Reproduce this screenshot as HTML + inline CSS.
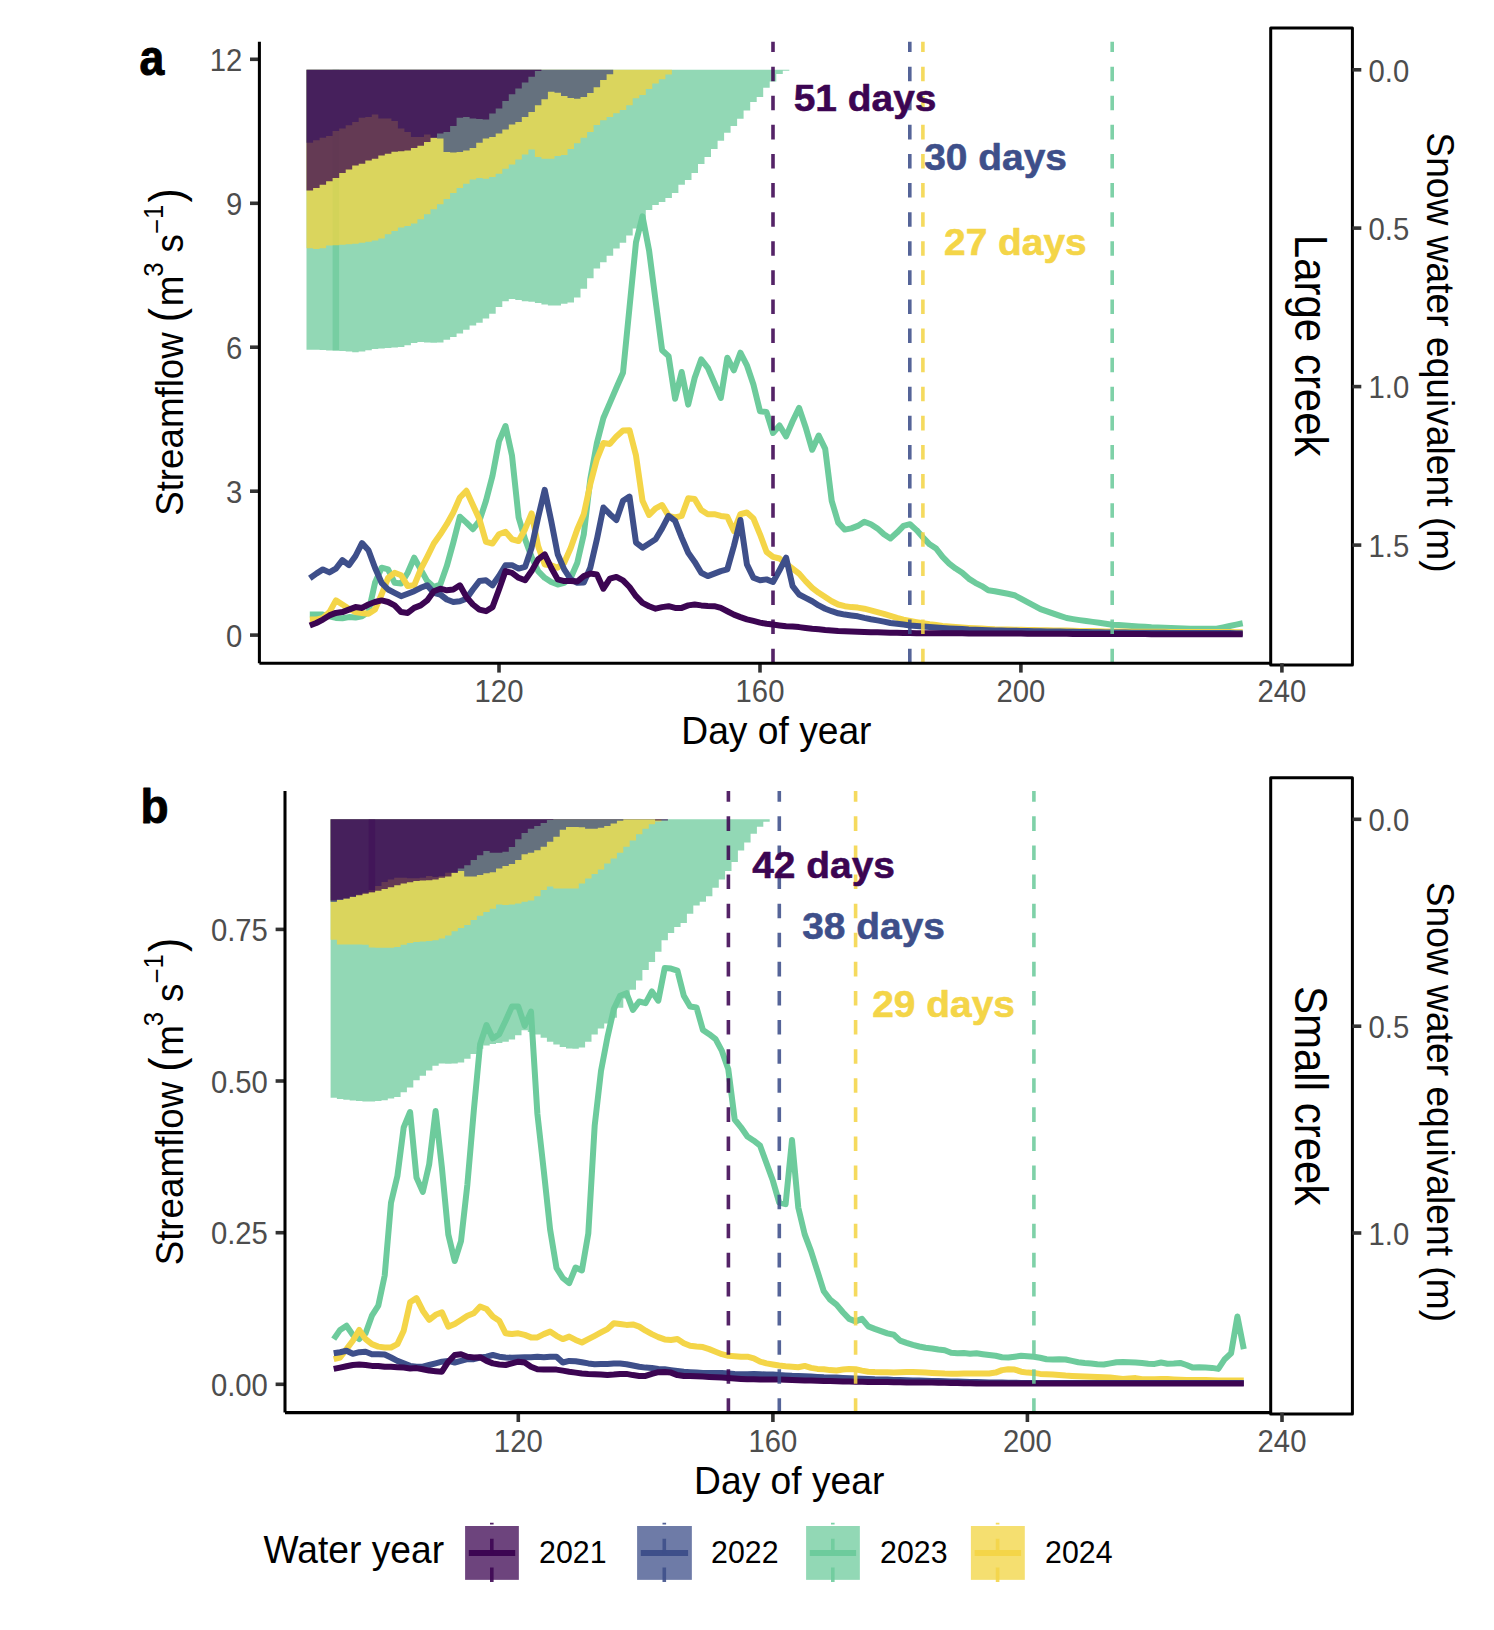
<!DOCTYPE html>
<html lang="en"><head><meta charset="utf-8"><title>Streamflow and snow water equivalent</title>
<style>html,body{margin:0;padding:0;background:#fff}svg{display:block}</style></head>
<body>
<svg width="1494" height="1630" viewBox="0 0 1494 1630" font-family="'Liberation Sans', sans-serif" role="img" aria-label="Streamflow and snow water equivalent by day of year for a large and a small creek, water years 2021 to 2024">
<rect width="1494" height="1630" fill="#fff"/>
<g>
<rect x="1270.7" y="27.9" width="81.7" height="637" fill="#fff" stroke="#000" stroke-width="3" stroke-linejoin="round"/>
<text transform="translate(1295,345.7) rotate(90) scale(1,1.09)" font-size="42.0" fill="#000" text-anchor="middle">Large creek</text>
<g fill-opacity="0.75">
<path d="M306.5,69.8 L306.5,349.8 L313.1,349.8 L313.1,349.8 L319.6,349.8 L319.6,350.1 L326.1,350.1 L326.1,350.6 L332.6,350.6 L332.6,350.6 L339.2,350.6 L339.2,350.9 L345.7,350.9 L345.7,351.4 L352.2,351.4 L352.2,352.3 L358.7,352.3 L358.7,351.4 L365.3,351.4 L365.3,350.3 L371.8,350.3 L371.8,348.9 L378.3,348.9 L378.3,348.4 L384.8,348.4 L384.8,348.1 L391.4,348.1 L391.4,347.6 L397.9,347.6 L397.9,346.9 L404.4,346.9 L404.4,345.2 L410.9,345.2 L410.9,343.1 L417.4,343.1 L417.4,341.9 L424,341.9 L424,342.6 L430.5,342.6 L430.5,342.7 L437,342.7 L437,342.6 L443.5,342.6 L443.5,339.7 L450.1,339.7 L450.1,336.9 L456.6,336.9 L456.6,333.5 L463.1,333.5 L463.1,329.7 L469.6,329.7 L469.6,325.5 L476.2,325.5 L476.2,322.7 L482.7,322.7 L482.7,318.5 L489.2,318.5 L489.2,313.8 L495.7,313.8 L495.7,307.1 L502.3,307.1 L502.3,301.2 L508.8,301.2 L508.8,299.1 L515.3,299.1 L515.3,300.1 L521.8,300.1 L521.8,301.2 L528.4,301.2 L528.4,301.7 L534.9,301.7 L534.9,302.9 L541.4,302.9 L541.4,304.6 L547.9,304.6 L547.9,305.4 L554.5,305.4 L554.5,305.4 L561,305.4 L561,303.7 L567.5,303.7 L567.5,302.4 L574,302.4 L574,297.4 L580.5,297.4 L580.5,288.7 L587.1,288.7 L587.1,278.3 L593.6,278.3 L593.6,268.6 L600.1,268.6 L600.1,262.2 L606.6,262.2 L606.6,255.7 L613.2,255.7 L613.2,248.5 L619.7,248.5 L619.7,242.7 L626.2,242.7 L626.2,235.6 L632.7,235.6 L632.7,228.4 L639.3,228.4 L639.3,219.6 L645.8,219.6 L645.8,209.9 L652.3,209.9 L652.3,205.1 L658.8,205.1 L658.8,201.9 L665.4,201.9 L665.4,197.9 L671.9,197.9 L671.9,192.9 L678.4,192.9 L678.4,184.8 L684.9,184.8 L684.9,180 L691.5,180 L691.5,173 L698,173 L698,163.9 L704.5,163.9 L704.5,156.9 L711,156.9 L711,148.9 L717.6,148.9 L717.6,140.8 L724.1,140.8 L724.1,132.8 L730.6,132.8 L730.6,125.9 L737.1,125.9 L737.1,118.7 L743.6,118.7 L743.6,110.4 L750.2,110.4 L750.2,102 L756.7,102 L756.7,97 L763.2,97 L763.2,87.8 L769.7,87.8 L769.7,81.4 L776.3,81.4 L776.3,73.9 L782.8,73.9 L782.8,70.7 L789.3,70.7 L789.3,69.8Z" fill="#6dcb9c"/>
<rect x="332.6" y="69.8" width="6.5" height="280.7" fill="#6dcb9c" fill-opacity="0.75"/>
<path d="M306.5,69.8 L306.5,248.2 L313.1,248.2 L313.1,248.9 L319.6,248.9 L319.6,248.2 L326.1,248.2 L326.1,245.5 L332.6,245.5 L332.6,245.2 L339.2,245.2 L339.2,244.8 L345.7,244.8 L345.7,244.3 L352.2,244.3 L352.2,243.8 L358.7,243.8 L358.7,242.7 L365.3,242.7 L365.3,241.8 L371.8,241.8 L371.8,240.5 L378.3,240.5 L378.3,238.5 L384.8,238.5 L384.8,234.3 L391.4,234.3 L391.4,231 L397.9,231 L397.9,227.6 L404.4,227.6 L404.4,225.9 L410.9,225.9 L410.9,223.4 L417.4,223.4 L417.4,219.2 L424,219.2 L424,214.2 L430.5,214.2 L430.5,209.2 L437,209.2 L437,204.2 L443.5,204.2 L443.5,198.9 L450.1,198.9 L450.1,193 L456.6,193 L456.6,188 L463.1,188 L463.1,183.8 L469.6,183.8 L469.6,179.6 L476.2,179.6 L476.2,178 L482.7,178 L482.7,178.8 L489.2,178.8 L489.2,177.1 L495.7,177.1 L495.7,173.8 L502.3,173.8 L502.3,168.8 L508.8,168.8 L508.8,164.6 L515.3,164.6 L515.3,159.6 L521.8,159.6 L521.8,154.5 L528.4,154.5 L528.4,149.5 L534.9,149.5 L534.9,157.1 L541.4,157.1 L541.4,158.7 L547.9,158.7 L547.9,158.7 L554.5,158.7 L554.5,156.1 L561,156.1 L561,154.9 L567.5,154.9 L567.5,149 L574,149 L574,143.2 L580.5,143.2 L580.5,137.8 L587.1,137.8 L587.1,132 L593.6,132 L593.6,124.9 L600.1,124.9 L600.1,120.2 L606.6,120.2 L606.6,116.9 L613.2,116.9 L613.2,113.2 L619.7,113.2 L619.7,110 L626.2,110 L626.2,105.2 L632.7,105.2 L632.7,98.2 L639.3,98.2 L639.3,95 L645.8,95 L645.8,89.1 L652.3,89.1 L652.3,83.4 L658.8,83.4 L658.8,79.2 L665.4,79.2 L665.4,74.4 L671.9,74.4 L671.9,69.8Z" fill="#f2d440"/>
<path d="M306.5,69.8 L306.5,142.8 L313.1,142.8 L313.1,140.3 L319.6,140.3 L319.6,137.8 L326.1,137.8 L326.1,136.1 L332.6,136.1 L332.6,131.1 L339.2,131.1 L339.2,128.6 L345.7,128.6 L345.7,125.3 L352.2,125.3 L352.2,121.9 L358.7,121.9 L358.7,117.7 L365.3,117.7 L365.3,116.9 L371.8,116.9 L371.8,114.4 L378.3,114.4 L378.3,118.6 L384.8,118.6 L384.8,118.6 L391.4,118.6 L391.4,121.1 L397.9,121.1 L397.9,128.6 L404.4,128.6 L404.4,132 L410.9,132 L410.9,137 L417.4,137 L417.4,137 L424,137 L424,134.5 L430.5,134.5 L430.5,137.8 L437,137.8 L437,138.6 L443.5,138.6 L443.5,152 L450.1,152 L450.1,152.5 L456.6,152.5 L456.6,152 L463.1,152 L463.1,150.4 L469.6,150.4 L469.6,147.9 L476.2,147.9 L476.2,142.8 L482.7,142.8 L482.7,138.6 L489.2,138.6 L489.2,137 L495.7,137 L495.7,133.6 L502.3,133.6 L502.3,129.4 L508.8,129.4 L508.8,124.4 L515.3,124.4 L515.3,121.9 L521.8,121.9 L521.8,116.9 L528.4,116.9 L528.4,111.9 L534.9,111.9 L534.9,105.2 L541.4,105.2 L541.4,99.3 L547.9,99.3 L547.9,91.8 L554.5,91.8 L554.5,92.8 L561,92.8 L561,96 L567.5,96 L567.5,98 L574,98 L574,98.8 L580.5,98.8 L580.5,97.1 L587.1,97.1 L587.1,93 L593.6,93 L593.6,87.3 L600.1,87.3 L600.1,80.1 L606.6,80.1 L606.6,74.2 L613.2,74.2 L613.2,69.8Z" fill="#3e4f8a"/>
<path d="M306.5,69.8 L306.5,190.5 L313.1,190.5 L313.1,188 L319.6,188 L319.6,184.7 L326.1,184.7 L326.1,181.3 L332.6,181.3 L332.6,178 L339.2,178 L339.2,173 L345.7,173 L345.7,169.6 L352.2,169.6 L352.2,165.4 L358.7,165.4 L358.7,163.7 L365.3,163.7 L365.3,160.4 L371.8,160.4 L371.8,158.7 L378.3,158.7 L378.3,155.4 L384.8,155.4 L384.8,153.7 L391.4,153.7 L391.4,151.7 L397.9,151.7 L397.9,151.2 L404.4,151.2 L404.4,150.4 L410.9,150.4 L410.9,147.9 L417.4,147.9 L417.4,145.7 L424,145.7 L424,142 L430.5,142 L430.5,137.8 L437,137.8 L437,133.6 L443.5,133.6 L443.5,132 L450.1,132 L450.1,126.1 L456.6,126.1 L456.6,117.7 L463.1,117.7 L463.1,116.9 L469.6,116.9 L469.6,118.6 L476.2,118.6 L476.2,118.9 L482.7,118.9 L482.7,119.4 L489.2,119.4 L489.2,113.5 L495.7,113.5 L495.7,108.5 L502.3,108.5 L502.3,101 L508.8,101 L508.8,94.3 L515.3,94.3 L515.3,88.4 L521.8,88.4 L521.8,82.6 L528.4,82.6 L528.4,76.7 L534.9,76.7 L534.9,70.9 L541.4,70.9 L541.4,69.8Z" fill="#3c0552"/>
</g>
<g fill="none" stroke-width="6.0" stroke-linejoin="round" stroke-linecap="butt">
<path d="M309.8,614.6 L316.3,614.6 L322.9,614.6 L329.4,616.3 L335.9,617.9 L342.4,618.3 L348.9,617.1 L355.5,617.6 L362,616.3 L368.5,612.1 L375,582.8 L381.6,567.7 L388.1,569.4 L394.6,582.8 L401.1,583.6 L407.7,572.8 L414.2,557.7 L420.7,569.4 L427.2,581.1 L433.8,587 L440.3,584.5 L446.8,566.1 L453.3,542.6 L459.9,516.7 L466.4,522.6 L472.9,529.2 L479.4,520.9 L486,500.8 L492.5,475.7 L499,441.4 L505.5,426 L512,455.6 L518.6,517.5 L525.1,539.3 L531.6,556.9 L538.1,571.1 L544.7,577.8 L551.2,582 L557.7,584.5 L564.2,582.8 L570.8,577.8 L577.3,562.7 L583.8,534.3 L590.3,479 L596.9,443.1 L603.4,418 L609.9,402.9 L616.4,387.8 L623,372.8 L629.5,307.5 L636,242.3 L642.5,216.3 L649.1,250.6 L655.6,300.8 L662.1,350.2 L668.6,356.1 L675.1,398.7 L681.7,372 L688.2,404.6 L694.7,377.8 L701.2,359.4 L707.8,367.8 L714.3,382.8 L720.8,397.9 L727.3,357.7 L733.9,370.3 L740.4,352.7 L746.9,365.3 L753.4,384.5 L760,411.3 L766.5,412.1 L773,433 L779.5,425.5 L786.1,436.4 L792.6,421.3 L799.1,407.9 L805.6,427.2 L812.2,449.8 L818.7,435.5 L825.2,448.9 L831.7,500.8 L838.2,522.6 L844.8,529.6 L851.3,528.4 L857.8,525.9 L864.3,521.7 L870.9,524.2 L877.4,528.4 L883.9,534.3 L890.4,538.5 L897,532.6 L903.5,525.9 L910,524.2 L916.5,530.1 L923.1,537.6 L929.6,544.3 L936.1,548.5 L942.6,556.9 L949.2,563.6 L955.7,568.6 L962.2,572.8 L968.7,578.6 L975.3,582.8 L981.8,586.1 L988.3,590.3 L994.8,591.2 L1001.3,592.5 L1007.9,593.8 L1014.4,595.2 L1020.9,598.7 L1027.4,602.2 L1034,605.6 L1040.5,609.1 L1047,611.3 L1053.5,613.6 L1060.1,615.8 L1066.6,618 L1073.1,619.1 L1079.6,620.1 L1086.2,621 L1092.7,621.9 L1099.2,622.8 L1105.7,623.8 L1112.3,624.7 L1118.8,625.1 L1125.3,625.6 L1131.8,626 L1138.4,626.4 L1144.9,626.8 L1151.4,627.3 L1157.9,627.6 L1164.4,627.8 L1171,628 L1177.5,628.2 L1184,628.5 L1190.5,628.7 L1197.1,628.7 L1203.6,628.7 L1210.1,628.7 L1216.6,628.7 L1223.2,627.4 L1229.7,626 L1236.2,624.6 L1242.7,623.3" stroke="#6dcb9c"/>
<path d="M309.8,619.6 L316.3,619.6 L322.9,617.9 L329.4,612.1 L335.9,600.4 L342.4,604.5 L348.9,608.7 L355.5,612.1 L362,612.9 L368.5,613.8 L375,609.6 L381.6,594.5 L388.1,577.8 L394.6,572.8 L401.1,575.3 L407.7,586.1 L414.2,585.3 L420.7,569.4 L427.2,556.9 L433.8,543.5 L440.3,534.3 L446.8,524.2 L453.3,512.5 L459.9,497.5 L466.4,490.8 L472.9,505 L479.4,519.2 L486,541.8 L492.5,543.5 L499,534.3 L505.5,531.8 L512,539.3 L518.6,541 L525.1,529.2 L531.6,513.4 L538.1,546 L544.7,564.4 L551.2,565.2 L557.7,567.7 L564.2,562.7 L570.8,547.7 L577.3,529.2 L583.8,514.2 L590.3,484.1 L596.9,459 L603.4,443.1 L609.9,443.9 L616.4,436.4 L623,430.5 L629.5,430.2 L636,455.6 L642.5,500.8 L649.1,515 L655.6,508.3 L662.1,505 L668.6,515.9 L675.1,517.5 L681.7,515.9 L688.2,498.3 L694.7,499.1 L701.2,510 L707.8,514.2 L714.3,514.2 L720.8,515.9 L727.3,516.7 L733.9,530.9 L740.4,514.2 L746.9,512.5 L753.4,518.4 L760,534.3 L766.5,551.8 L773,556.9 L779.5,558.5 L786.1,563.6 L792.6,568.6 L799.1,573.6 L805.6,581.1 L812.2,587.8 L818.7,592.8 L825.2,597 L831.7,601.2 L838.2,604.5 L844.8,606.2 L851.3,607.1 L857.8,607.6 L864.3,608.7 L870.9,610.4 L877.4,612.1 L883.9,613.8 L890.4,615.9 L897,617.9 L903.5,619.6 L910,620.9 L916.5,622.1 L923.1,623.3 L929.6,624.3 L936.1,625.1 L942.6,626 L949.2,626.6 L955.7,627.1 L962.2,627.6 L968.7,628 L975.3,628.3 L981.8,628.6 L988.3,629 L994.8,629.3 L1001.3,629.4 L1007.9,629.6 L1014.4,629.7 L1020.9,629.8 L1027.4,629.9 L1034,630 L1040.5,630.2 L1047,630.3 L1053.5,630.4 L1060.1,630.5 L1066.6,630.6 L1073.1,630.8 L1079.6,630.9 L1086.2,631 L1092.7,631.1 L1099.2,631.2 L1105.7,631.4 L1112.3,631.5 L1118.8,631.6 L1125.3,631.6 L1131.8,631.7 L1138.4,631.7 L1144.9,631.7 L1151.4,631.8 L1157.9,631.8 L1164.4,631.8 L1171,631.9 L1177.5,631.9 L1184,631.9 L1190.5,631.9 L1197.1,632 L1203.6,632 L1210.1,632 L1216.6,632.1 L1223.2,632.1 L1229.7,632.1 L1236.2,632.2 L1242.7,632.2" stroke="#f4d548"/>
<path d="M309.8,578.3 L316.3,573.6 L322.9,569.4 L329.4,572.4 L335.9,568.6 L342.4,560.2 L348.9,565.2 L355.5,556 L362,543.1 L368.5,550.2 L375,567.7 L381.6,582.8 L388.1,589.5 L394.6,592.8 L401.1,596.2 L407.7,593.7 L414.2,591.2 L420.7,587.8 L427.2,585.3 L433.8,592.8 L440.3,594.5 L446.8,599.5 L453.3,602 L459.9,601.2 L466.4,598.7 L472.9,589.5 L479.4,581.1 L486,580.3 L492.5,585.3 L499,576.1 L505.5,565.2 L512,565.2 L518.6,568.6 L525.1,566.9 L531.6,547.7 L538.1,517.5 L544.7,489.9 L551.2,520.9 L557.7,554.3 L564.2,569.4 L570.8,579.4 L577.3,582.8 L583.8,582.5 L590.3,567.7 L596.9,539.3 L603.4,507.5 L609.9,514.2 L616.4,520 L623,500.8 L629.5,496.6 L636,542.6 L642.5,547.7 L649.1,543.5 L655.6,539.3 L662.1,528.4 L668.6,515.9 L675.1,520.9 L681.7,537.6 L688.2,552.7 L694.7,561.9 L701.2,572.8 L707.8,576.1 L714.3,573.6 L720.8,571.1 L727.3,569.4 L733.9,546 L740.4,520 L746.9,564.4 L753.4,577.8 L760,580.3 L766.5,579.4 L773,582 L779.5,570.2 L786.1,557.7 L792.6,586.1 L799.1,594.5 L805.6,597.9 L812.2,601.2 L818.7,605.4 L825.2,608.7 L831.7,611.2 L838.2,613.3 L844.8,614.6 L851.3,615.4 L857.8,616.3 L864.3,617.9 L870.9,619.3 L877.4,620.4 L883.9,621.6 L890.4,623 L897,623.8 L903.5,624.6 L910,625.5 L916.5,626 L923.1,626.6 L929.6,627.1 L936.1,627.6 L942.6,628.1 L949.2,628.5 L955.7,628.8 L962.2,629.1 L968.7,629.5 L975.3,629.7 L981.8,630 L988.3,630.3 L994.8,630.5 L1001.3,630.6 L1007.9,630.7 L1014.4,630.8 L1020.9,630.9 L1027.4,631 L1034,631.2 L1040.5,631.3 L1047,631.4 L1053.5,631.5 L1060.1,631.6 L1066.6,631.7 L1073.1,631.8 L1079.6,631.9 L1086.2,632 L1092.7,632.2 L1099.2,632.3 L1105.7,632.4 L1112.3,632.5 L1118.8,632.6 L1125.3,632.6 L1131.8,632.7 L1138.4,632.7 L1144.9,632.7 L1151.4,632.8 L1157.9,632.8 L1164.4,632.8 L1171,632.9 L1177.5,632.9 L1184,632.9 L1190.5,632.9 L1197.1,633 L1203.6,633 L1210.1,633 L1216.6,633.1 L1223.2,633.1 L1229.7,633.1 L1236.2,633.2 L1242.7,633.2" stroke="#3e4f8a"/>
<path d="M309.8,625.5 L316.3,623 L322.9,619.6 L329.4,615.4 L335.9,612.9 L342.4,612.1 L348.9,609.6 L355.5,607.1 L362,607.9 L368.5,604.5 L375,602 L381.6,600.4 L388.1,602 L394.6,605.4 L401.1,612.1 L407.7,612.9 L414.2,607.9 L420.7,605.4 L427.2,600.4 L433.8,591.2 L440.3,588.7 L446.8,590.3 L453.3,589.5 L459.9,585.3 L466.4,597 L472.9,604.5 L479.4,609.6 L486,611.2 L492.5,607.1 L499,589.5 L505.5,571.1 L512,572.8 L518.6,577.8 L525.1,580.3 L531.6,571.1 L538.1,559.4 L544.7,554.3 L551.2,567.7 L557.7,579.4 L564.2,581.1 L570.8,581.1 L577.3,581.5 L583.8,576.1 L590.3,573.6 L596.9,574.4 L603.4,588.7 L609.9,578.6 L616.4,576.9 L623,580.3 L629.5,587 L636,596.2 L642.5,602.9 L649.1,606.2 L655.6,608.7 L662.1,607.1 L668.6,606.2 L675.1,607.9 L681.7,607.9 L688.2,605.4 L694.7,604.5 L701.2,605.4 L707.8,605.9 L714.3,606.2 L720.8,607.9 L727.3,611.2 L733.9,614.6 L740.4,617.1 L746.9,619.3 L753.4,620.9 L760,622.6 L766.5,623.8 L773,624.6 L779.5,625.5 L786.1,626.3 L792.6,626.6 L799.1,627.1 L805.6,628 L812.2,628.8 L818.7,629.3 L825.2,630 L831.7,630.5 L838.2,631 L844.8,631.3 L851.3,631.5 L857.8,631.8 L864.3,632 L870.9,632.2 L877.4,632.3 L883.9,632.5 L890.4,632.7 L897,632.8 L903.5,633 L910,633 L916.5,633.2 L923.1,633.2 L929.6,633.2 L936.1,633.3 L942.6,633.3 L949.2,633.3 L955.7,633.3 L962.2,633.3 L968.7,633.5 L975.3,633.5 L981.8,633.5 L988.3,633.5 L994.8,633.5 L1001.3,633.5 L1007.9,633.6 L1014.4,633.6 L1020.9,633.6 L1027.4,633.7 L1034,633.7 L1040.5,633.7 L1047,633.8 L1053.5,633.8 L1060.1,633.8 L1066.6,633.8 L1073.1,633.9 L1079.6,633.9 L1086.2,633.9 L1092.7,634 L1099.2,634 L1105.7,634 L1112.3,634.1 L1118.8,634.1 L1125.3,634.1 L1131.8,634.1 L1138.4,634.1 L1144.9,634.1 L1151.4,634.2 L1157.9,634.2 L1164.4,634.2 L1171,634.2 L1177.5,634.2 L1184,634.2 L1190.5,634.2 L1197.1,634.2 L1203.6,634.2 L1210.1,634.2 L1216.6,634.3 L1223.2,634.3 L1229.7,634.3 L1236.2,634.3 L1242.7,634.3" stroke="#3c0552"/>
</g>
<g fill="none" stroke-width="3.6" stroke-dasharray="14.55 14.55" stroke-opacity="0.88">
<path d="M773,663.2V41.7" stroke="#3c0552"/>
<path d="M909.8,663.2V41.7" stroke="#3e4f8a"/>
<path d="M922.9,663.2V41.7" stroke="#f4d548"/>
<path d="M1112.2,663.2V41.7" stroke="#6dcb9c"/>
</g>
<g stroke="#333" stroke-width="3.6" fill="none">
<path d="M250,59.3H259.4"/>
<path d="M250,203.3H259.4"/>
<path d="M250,347.2H259.4"/>
<path d="M250,491.2H259.4"/>
<path d="M250,635.1H259.4"/>
<path d="M499,663.2V672.6"/>
<path d="M760,663.2V672.6"/>
<path d="M1020.9,663.2V672.6"/>
<path d="M1281.9,663.2V672.6"/>
<path d="M1352.4,69.8H1361.3"/>
<path d="M1352.4,228.1H1361.3"/>
<path d="M1352.4,386.6H1361.3"/>
<path d="M1352.4,545.1H1361.3"/>
</g>
<g fill="none" stroke="#000" stroke-width="3.05">
<path d="M259.4,41.7V663.2"/>
<path d="M259.4,663.2H1270.7"/>
</g>
<text transform="translate(793.7,111.2) scale(1,0.97)" font-size="38.9" fill="#3c0552" font-weight="bold" stroke="#3c0552" stroke-width="0.6" stroke-linejoin="round">51 days</text>
<text transform="translate(924.2,170.4) scale(1,0.97)" font-size="38.9" fill="#3e4f8a" font-weight="bold" stroke="#3e4f8a" stroke-width="0.6" stroke-linejoin="round">30 days</text>
<text transform="translate(944,255.2) scale(1,0.97)" font-size="38.9" fill="#f4d548" font-weight="bold" stroke="#f4d548" stroke-width="0.6" stroke-linejoin="round">27 days</text>
<text transform="translate(242.3,71) scale(1,1.045)" font-size="29.3" fill="#4d4d4d" text-anchor="end">12</text>
<text transform="translate(242.3,214.9) scale(1,1.045)" font-size="29.3" fill="#4d4d4d" text-anchor="end">9</text>
<text transform="translate(242.3,358.9) scale(1,1.045)" font-size="29.3" fill="#4d4d4d" text-anchor="end">6</text>
<text transform="translate(242.3,502.8) scale(1,1.045)" font-size="29.3" fill="#4d4d4d" text-anchor="end">3</text>
<text transform="translate(242.3,646.8) scale(1,1.045)" font-size="29.3" fill="#4d4d4d" text-anchor="end">0</text>
<text transform="translate(499,702.1) scale(1,1.045)" font-size="29.3" fill="#4d4d4d" text-anchor="middle">120</text>
<text transform="translate(760,702.1) scale(1,1.045)" font-size="29.3" fill="#4d4d4d" text-anchor="middle">160</text>
<text transform="translate(1020.9,702.1) scale(1,1.045)" font-size="29.3" fill="#4d4d4d" text-anchor="middle">200</text>
<text transform="translate(1281.9,702.1) scale(1,1.045)" font-size="29.3" fill="#4d4d4d" text-anchor="middle">240</text>
<text transform="translate(1368.5,81.5) scale(1,1.045)" font-size="29.3" fill="#4d4d4d">0.0</text>
<text transform="translate(1368.5,239.8) scale(1,1.045)" font-size="29.3" fill="#4d4d4d">0.5</text>
<text transform="translate(1368.5,398.2) scale(1,1.045)" font-size="29.3" fill="#4d4d4d">1.0</text>
<text transform="translate(1368.5,556.8) scale(1,1.045)" font-size="29.3" fill="#4d4d4d">1.5</text>
<text transform="translate(776.4,744.4) scale(1,1.06)" font-size="37.2" fill="#000" text-anchor="middle">Day of year</text>
<text transform="translate(1427.4,352.5) rotate(90) scale(1,1.06)" font-size="37.2" fill="#000" text-anchor="middle">Snow water equivalent (m)</text>
<g transform="translate(182.5,514.2) rotate(-90) scale(1,1.06)" fill="#000" font-size="36.7"><text x="-1.6" y="0">Streamflow</text><text x="192" y="-0.5" font-size="42.8">(</text><text x="208" y="0">m</text><text x="237.5" y="-18.6" font-size="25.7">3</text><text x="261.8" y="0">s</text><text x="280.5" y="-15.8" font-size="25.7">−</text><text x="295.2" y="-18.6" font-size="25.7">1</text><text x="311.6" y="-0.5" font-size="42.8">)</text></g>
<text transform="translate(139.6,74.5) scale(1,1.12)" font-size="44.5" fill="#000" font-weight="bold" stroke="#000" stroke-width="0.9" stroke-linejoin="round">a</text>
</g>
<g>
<rect x="1270.7" y="777.8" width="81.7" height="636.2" fill="#fff" stroke="#000" stroke-width="3" stroke-linejoin="round"/>
<text transform="translate(1295,1095.7) rotate(90) scale(1,1.09)" font-size="42.0" fill="#000" text-anchor="middle">Small creek</text>
<g fill-opacity="0.75">
<path d="M330.6,819.2 L330.6,1097.8 L336.9,1097.8 L336.9,1098.9 L343.3,1098.9 L343.3,1099.8 L349.7,1099.8 L349.7,1100.6 L356,1100.6 L356,1100.9 L362.4,1100.9 L362.4,1101.4 L368.7,1101.4 L368.7,1101.4 L375.1,1101.4 L375.1,1101.1 L381.5,1101.1 L381.5,1100.3 L387.8,1100.3 L387.8,1098.6 L394.2,1098.6 L394.2,1096.9 L400.6,1096.9 L400.6,1092.2 L406.9,1092.2 L406.9,1087.5 L413.3,1087.5 L413.3,1080.2 L419.7,1080.2 L419.7,1075.8 L426,1075.8 L426,1070.5 L432.4,1070.5 L432.4,1065.8 L438.7,1065.8 L438.7,1063.4 L445.1,1063.4 L445.1,1063.8 L451.5,1063.8 L451.5,1063.4 L457.8,1063.4 L457.8,1062.4 L464.2,1062.4 L464.2,1058.8 L470.6,1058.8 L470.6,1054.1 L476.9,1054.1 L476.9,1048.7 L483.3,1048.7 L483.3,1045.4 L489.7,1045.4 L489.7,1044 L496,1044 L496,1042.9 L502.4,1042.9 L502.4,1041.7 L508.8,1041.7 L508.8,1039.5 L515.1,1039.5 L515.1,1035.3 L521.5,1035.3 L521.5,1030.3 L527.8,1030.3 L527.8,1032 L534.2,1032 L534.2,1034.5 L540.6,1034.5 L540.6,1037.8 L546.9,1037.8 L546.9,1041.7 L553.3,1041.7 L553.3,1044.5 L559.7,1044.5 L559.7,1047 L566,1047 L566,1048.4 L572.4,1048.4 L572.4,1048.7 L578.8,1048.7 L578.8,1047.4 L585.1,1047.4 L585.1,1041.7 L591.5,1041.7 L591.5,1034.5 L597.8,1034.5 L597.8,1028.6 L604.2,1028.6 L604.2,1023.6 L610.6,1023.6 L610.6,1017.8 L616.9,1017.8 L616.9,1007.7 L623.3,1007.7 L623.3,998.5 L629.7,998.5 L629.7,989.8 L636,989.8 L636,980.4 L642.4,980.4 L642.4,970.1 L648.8,970.1 L648.8,962 L655.1,962 L655.1,951.7 L661.5,951.7 L661.5,940.2 L667.9,940.2 L667.9,933 L674.2,933 L674.2,927.1 L680.6,927.1 L680.6,923 L686.9,923 L686.9,913.7 L693.3,913.7 L693.3,905.4 L699.7,905.4 L699.7,901.7 L706,901.7 L706,896.2 L712.4,896.2 L712.4,887.8 L718.8,887.8 L718.8,879.4 L725.1,879.4 L725.1,871.1 L731.5,871.1 L731.5,861.9 L737.9,861.9 L737.9,850.5 L744.2,850.5 L744.2,842.6 L750.6,842.6 L750.6,833.8 L756.9,833.8 L756.9,826.7 L763.3,826.7 L763.3,821.7 L769.7,821.7 L769.7,819.2Z" fill="#6dcb9c"/>
<path d="M330.6,819.2 L330.6,939.7 L336.9,939.7 L336.9,944.4 L343.3,944.4 L343.3,944.4 L349.7,944.4 L349.7,944.4 L356,944.4 L356,944.4 L362.4,944.4 L362.4,944.7 L368.7,944.7 L368.7,947.6 L375.1,947.6 L375.1,947.7 L381.5,947.7 L381.5,947.7 L387.8,947.7 L387.8,947.7 L394.2,947.7 L394.2,946.9 L400.6,946.9 L400.6,944.7 L406.9,944.7 L406.9,943 L413.3,943 L413.3,941.9 L419.7,941.9 L419.7,941.4 L426,941.4 L426,940.9 L432.4,940.9 L432.4,940.2 L438.7,940.2 L438.7,938.5 L445.1,938.5 L445.1,935.5 L451.5,935.5 L451.5,931.3 L457.8,931.3 L457.8,928 L464.2,928 L464.2,925.1 L470.6,925.1 L470.6,920.1 L476.9,920.1 L476.9,915.8 L483.3,915.8 L483.3,912.1 L489.7,912.1 L489.7,908.7 L496,908.7 L496,904.5 L502.4,904.5 L502.4,905 L508.8,905 L508.8,904.5 L515.1,904.5 L515.1,903.4 L521.5,903.4 L521.5,901.7 L527.8,901.7 L527.8,900.4 L534.2,900.4 L534.2,896.2 L540.6,896.2 L540.6,890 L546.9,890 L546.9,886.6 L553.3,886.6 L553.3,888.6 L559.7,888.6 L559.7,888.6 L566,888.6 L566,888.6 L572.4,888.6 L572.4,888.6 L578.8,888.6 L578.8,883.6 L585.1,883.6 L585.1,878.6 L591.5,878.6 L591.5,873.9 L597.8,873.9 L597.8,869.4 L604.2,869.4 L604.2,863.5 L610.6,863.5 L610.6,858.5 L616.9,858.5 L616.9,852.7 L623.3,852.7 L623.3,846.8 L629.7,846.8 L629.7,840.5 L636,840.5 L636,834.3 L642.4,834.3 L642.4,828.7 L648.8,828.7 L648.8,824.2 L655.1,824.2 L655.1,821.4 L661.5,821.4 L661.5,819.2Z" fill="#f2d440"/>
<path d="M330.6,819.2 L330.6,902 L336.9,902 L336.9,900 L343.3,900 L343.3,898.4 L349.7,898.4 L349.7,896.7 L356,896.7 L356,894.5 L362.4,894.5 L362.4,892.8 L368.7,892.8 L368.7,890 L375.1,890 L375.1,886.1 L381.5,886.1 L381.5,882 L387.8,882 L387.8,879.4 L394.2,879.4 L394.2,877.8 L400.6,877.8 L400.6,877.8 L406.9,877.8 L406.9,878.3 L413.3,878.3 L413.3,878.3 L419.7,878.3 L419.7,877.8 L426,877.8 L426,876.1 L432.4,876.1 L432.4,876.9 L438.7,876.9 L438.7,876.1 L445.1,876.1 L445.1,872.8 L451.5,872.8 L451.5,872.8 L457.8,872.8 L457.8,871.1 L464.2,871.1 L464.2,876.6 L470.6,876.6 L470.6,876.6 L476.9,876.6 L476.9,874.9 L483.3,874.9 L483.3,873.3 L489.7,873.3 L489.7,872.2 L496,872.2 L496,868.6 L502.4,868.6 L502.4,866.1 L508.8,866.1 L508.8,863.9 L515.1,863.9 L515.1,859.9 L521.5,859.9 L521.5,854.3 L527.8,854.3 L527.8,852.7 L534.2,852.7 L534.2,850.2 L540.6,850.2 L540.6,846.8 L546.9,846.8 L546.9,841.8 L553.3,841.8 L553.3,836.8 L559.7,836.8 L559.7,829.7 L566,829.7 L566,827.1 L572.4,827.1 L572.4,827.1 L578.8,827.1 L578.8,827.2 L585.1,827.2 L585.1,828.7 L591.5,828.7 L591.5,828.7 L597.8,828.7 L597.8,827.7 L604.2,827.7 L604.2,826.1 L610.6,826.1 L610.6,823.4 L616.9,823.4 L616.9,820.7 L623.3,820.7 L623.3,819.2Z" fill="#3e4f8a"/>
<path d="M330.6,819.2 L330.6,900.4 L336.9,900.4 L336.9,899.5 L343.3,899.5 L343.3,898.4 L349.7,898.4 L349.7,896.7 L356,896.7 L356,895.3 L362.4,895.3 L362.4,893.7 L368.7,893.7 L368.7,892.3 L375.1,892.3 L375.1,890.7 L381.5,890.7 L381.5,889 L387.8,889 L387.8,887.3 L394.2,887.3 L394.2,885.3 L400.6,885.3 L400.6,883.6 L406.9,883.6 L406.9,882.3 L413.3,882.3 L413.3,881.1 L419.7,881.1 L419.7,880.6 L426,880.6 L426,880.3 L432.4,880.3 L432.4,879.4 L438.7,879.4 L438.7,877.8 L445.1,877.8 L445.1,876.6 L451.5,876.6 L451.5,872.8 L457.8,872.8 L457.8,868.6 L464.2,868.6 L464.2,865.2 L470.6,865.2 L470.6,859.9 L476.9,859.9 L476.9,855.2 L483.3,855.2 L483.3,851 L489.7,851 L489.7,852.7 L496,852.7 L496,852.7 L502.4,852.7 L502.4,851.8 L508.8,851.8 L508.8,847.1 L515.1,847.1 L515.1,839.3 L521.5,839.3 L521.5,833.1 L527.8,833.1 L527.8,828.7 L534.2,828.7 L534.2,825.9 L540.6,825.9 L540.6,823.1 L546.9,823.1 L546.9,820 L553.3,820 L553.3,819.5 L559.7,819.5 L559.7,819.5 L566,819.5 L566,819.5 L572.4,819.5 L572.4,819.5 L578.8,819.5 L578.8,819.5 L585.1,819.5 L585.1,819.5 L591.5,819.5 L591.5,819.5 L597.8,819.5 L597.8,819.5 L604.2,819.5 L604.2,819.5 L610.6,819.5 L610.6,819.5 L616.9,819.5 L616.9,819.5 L623.3,819.5 L623.3,819.5 L629.7,819.5 L629.7,819.5 L636,819.5 L636,819.5 L642.4,819.5 L642.4,819.5 L648.8,819.5 L648.8,819.5 L655.1,819.5 L655.1,820.4 L661.5,820.4 L661.5,820.4 L667.9,820.4 L667.9,819.2Z" fill="#3c0552"/>
<rect x="368.7" y="819.2" width="6.4" height="73.1" fill="#3c0552" fill-opacity="0.35"/>
</g>
<g fill="none" stroke-width="6.0" stroke-linejoin="round" stroke-linecap="butt">
<path d="M333.7,1339.1 L340.1,1329.9 L346.5,1325.7 L352.8,1334.9 L359.2,1339.1 L365.6,1333.3 L371.9,1315.7 L378.3,1305.6 L384.7,1275.5 L391,1202.7 L397.4,1176 L403.7,1127.4 L410.1,1112 L416.5,1177.6 L422.8,1191.9 L429.2,1164.2 L435.6,1111 L441.9,1167.6 L448.3,1234.5 L454.7,1261 L461,1241.2 L467.4,1184.3 L473.8,1110.7 L480.1,1044.2 L486.5,1025 L492.8,1038.4 L499.2,1034.2 L505.6,1020.8 L511.9,1006.6 L518.3,1006.6 L524.7,1025.8 L531,1011.6 L537.4,1114 L543.8,1170.9 L550.1,1229.5 L556.5,1268 L562.8,1278 L569.2,1283.1 L575.6,1267.5 L581.9,1270.5 L588.3,1233.5 L594.7,1125.5 L601,1071 L607.4,1037.5 L613.8,1009.1 L620.1,995.7 L626.5,993.2 L632.9,1009.9 L639.2,1001.5 L645.6,1003.2 L651.9,991.5 L658.3,1000.7 L664.7,968.1 L671,968.6 L677.4,970.6 L683.8,995.7 L690.1,1006.6 L696.5,1007.4 L702.9,1030 L709.2,1034.2 L715.6,1039.2 L721.9,1050.9 L728.3,1069.3 L734.7,1119.5 L741,1127.3 L747.4,1136.5 L753.8,1140.7 L760.1,1145.7 L766.5,1163.3 L772.9,1180.8 L779.2,1202.6 L785.6,1204.2 L792,1140 L798.3,1207.6 L804.7,1234.4 L811,1251.1 L817.4,1271.2 L823.8,1291.3 L830.1,1299.6 L836.5,1304.6 L842.9,1312.2 L849.2,1318.9 L855.6,1321.4 L862,1318.9 L868.3,1326.4 L874.7,1328.9 L881,1331.1 L887.4,1333.4 L893.8,1334.8 L900.1,1340.6 L906.5,1342.8 L912.9,1344.8 L919.2,1346.5 L925.6,1347.8 L932,1348.5 L938.3,1349.5 L944.7,1350.2 L951.1,1352.8 L957.4,1353.3 L963.8,1353 L970.1,1353.8 L976.5,1353.3 L982.9,1354.2 L989.2,1355 L995.6,1355.8 L1002,1357.2 L1008.3,1357.5 L1014.7,1356.7 L1021.1,1355.8 L1027.4,1356.2 L1033.8,1356.7 L1040.1,1357.8 L1046.5,1359.2 L1052.9,1359.5 L1059.2,1359.2 L1065.6,1359.5 L1072,1360.9 L1078.3,1362.2 L1084.7,1362.9 L1091.1,1363.4 L1097.4,1364.2 L1103.8,1364.5 L1110.2,1363.4 L1116.5,1362.2 L1122.9,1361.9 L1129.2,1362.2 L1135.6,1362.5 L1142,1363 L1148.3,1363.7 L1154.7,1363.9 L1161.1,1362.5 L1167.4,1363.7 L1173.8,1363.5 L1180.2,1362.9 L1186.5,1365 L1192.9,1367.6 L1199.2,1367.2 L1205.6,1367.6 L1212,1367.9 L1218.3,1368.9 L1224.7,1359.2 L1231.1,1353.3 L1237.4,1316.5 L1243.8,1349.1" stroke="#6dcb9c"/>
<path d="M333.7,1359.2 L340.1,1357.5 L346.5,1349.1 L352.8,1340.8 L359.2,1329.9 L365.6,1339.1 L371.9,1344.1 L378.3,1346.6 L384.7,1347.5 L391,1347.5 L397.4,1344.1 L403.7,1330.7 L410.1,1302.3 L416.5,1298.1 L422.8,1310.7 L429.2,1319.9 L435.6,1314.8 L441.9,1312.3 L448.3,1326.6 L454.7,1324 L461,1319.9 L467.4,1315.7 L473.8,1313.2 L480.1,1306.5 L486.5,1309 L492.8,1316.5 L499.2,1320.7 L505.6,1333.3 L511.9,1334.1 L518.3,1333.3 L524.7,1334.9 L531,1337.4 L537.4,1337.4 L543.8,1334.1 L550.1,1331.6 L556.5,1335.8 L562.8,1339.1 L569.2,1336.6 L575.6,1339.9 L581.9,1342.5 L588.3,1339.1 L594.7,1335.8 L601,1332.4 L607.4,1329.1 L613.8,1323.2 L620.1,1324 L626.5,1324.9 L632.9,1324.4 L639.2,1326.6 L645.6,1330.7 L651.9,1334.1 L658.3,1337.1 L664.7,1339.4 L671,1339.9 L677.4,1339.1 L683.8,1343.3 L690.1,1345.8 L696.5,1346.6 L702.9,1347.1 L709.2,1349.1 L715.6,1351.7 L721.9,1354.2 L728.3,1355.8 L734.7,1356.2 L741,1356.7 L747.4,1356.7 L753.8,1358.4 L760.1,1361.7 L766.5,1363.4 L772.9,1364.5 L779.2,1365.5 L785.6,1366.2 L792,1366.7 L798.3,1367.2 L804.7,1365.9 L811,1367.9 L817.4,1368.9 L823.8,1369.2 L830.1,1370.1 L836.5,1370.4 L842.9,1369.6 L849.2,1368.9 L855.6,1369.2 L862,1370.6 L868.3,1371.7 L874.7,1372.1 L881,1372.2 L887.4,1372.2 L893.8,1372.6 L900.1,1372.2 L906.5,1372.1 L912.9,1371.9 L919.2,1372.2 L925.6,1372.6 L932,1372.9 L938.3,1373.2 L944.7,1373.6 L951.1,1373.7 L957.4,1373.7 L963.8,1373.6 L970.1,1373.6 L976.5,1373.6 L982.9,1373.6 L989.2,1373.4 L995.6,1372.6 L1002,1370.1 L1008.3,1369.2 L1014.7,1369.6 L1021.1,1371.7 L1027.4,1372.6 L1033.8,1372.9 L1040.1,1373.9 L1046.5,1374.2 L1052.9,1374.6 L1059.2,1375.1 L1065.6,1375.6 L1072,1375.9 L1078.3,1376.3 L1084.7,1376.6 L1091.1,1376.8 L1097.4,1377.1 L1103.8,1377.3 L1110.2,1377.6 L1116.5,1378.3 L1122.9,1378.9 L1129.2,1378.4 L1135.6,1378.1 L1142,1379.3 L1148.3,1379.3 L1154.7,1379.3 L1161.1,1379.1 L1167.4,1378.9 L1173.8,1379.4 L1180.2,1379.8 L1186.5,1380.1 L1192.9,1380.1 L1199.2,1380.1 L1205.6,1380.1 L1212,1380.3 L1218.3,1380.6 L1224.7,1380.6 L1231.1,1380.6 L1237.4,1380.6 L1243.8,1380.6" stroke="#f4d548"/>
<path d="M333.7,1353.3 L340.1,1352.2 L346.5,1350.8 L352.8,1353.8 L359.2,1352.2 L365.6,1351.7 L371.9,1354.2 L378.3,1354.2 L384.7,1354.5 L391,1357.5 L397.4,1360.9 L403.7,1363.4 L410.1,1365.9 L416.5,1366.7 L422.8,1366.7 L429.2,1365 L435.6,1363.4 L441.9,1361.7 L448.3,1360.9 L454.7,1362.5 L461,1360.9 L467.4,1359.2 L473.8,1359.2 L480.1,1357.5 L486.5,1356.7 L492.8,1355 L499.2,1356.7 L505.6,1357.5 L511.9,1357.8 L518.3,1357.5 L524.7,1357.2 L531,1357.2 L537.4,1356.7 L543.8,1357.2 L550.1,1356.7 L556.5,1356.7 L562.8,1362.5 L569.2,1360.9 L575.6,1361.2 L581.9,1362.2 L588.3,1363.4 L594.7,1364.2 L601,1363.9 L607.4,1363.9 L613.8,1363.5 L620.1,1363.4 L626.5,1364.2 L632.9,1365.5 L639.2,1366.7 L645.6,1367.6 L651.9,1367.9 L658.3,1368.9 L664.7,1369.2 L671,1370.1 L677.4,1370.9 L683.8,1371.7 L690.1,1372.2 L696.5,1372.6 L702.9,1372.9 L709.2,1373.1 L715.6,1372.9 L721.9,1372.9 L728.3,1373.4 L734.7,1373.9 L741,1374.2 L747.4,1374.2 L753.8,1373.9 L760.1,1374.2 L766.5,1374.6 L772.9,1374.6 L779.2,1375.1 L785.6,1375.4 L792,1375.8 L798.3,1375.9 L804.7,1376.3 L811,1376.6 L817.4,1376.9 L823.8,1377.3 L830.1,1377.4 L836.5,1377.6 L842.9,1377.9 L849.2,1378.3 L855.6,1378.6 L862,1378.8 L868.3,1378.9 L874.7,1379.3 L881,1379.4 L887.4,1379.6 L893.8,1379.9 L900.1,1380.1 L906.5,1380.3 L912.9,1380.4 L919.2,1380.6 L925.6,1380.8 L932,1380.9 L938.3,1381.1 L944.7,1381.3 L951.1,1381.4 L957.4,1381.6 L963.8,1381.8 L970.1,1381.9 L976.5,1382.1 L982.9,1382.3 L989.2,1382.4 L995.6,1382.6 L1002,1382.6 L1008.3,1382.8 L1014.7,1382.8 L1021.1,1382.9 L1027.4,1382.9 L1033.8,1383.1 L1040.1,1383.1 L1046.5,1383.1 L1052.9,1383.1 L1059.2,1383.1 L1065.6,1383.1 L1072,1383.1 L1078.3,1383.1 L1084.7,1383.1 L1091.1,1383.1 L1097.4,1383.1 L1103.8,1383.1 L1110.2,1383.1 L1116.5,1383.1 L1122.9,1383.1 L1129.2,1383.1 L1135.6,1383.1 L1142,1383.1 L1148.3,1383.1 L1154.7,1383.1 L1161.1,1383.1 L1167.4,1383.1 L1173.8,1383.1 L1180.2,1383.1 L1186.5,1383.1 L1192.9,1383.1 L1199.2,1383.1 L1205.6,1383.1 L1212,1383.1 L1218.3,1383.1 L1224.7,1383.1 L1231.1,1383.1 L1237.4,1383.1 L1243.8,1383.1" stroke="#3e4f8a"/>
<path d="M333.7,1368.9 L340.1,1367.6 L346.5,1366.2 L352.8,1365 L359.2,1364.5 L365.6,1365 L371.9,1365.9 L378.3,1365.9 L384.7,1366.7 L391,1366.7 L397.4,1367.2 L403.7,1367.6 L410.1,1368.4 L416.5,1368.1 L422.8,1369.2 L429.2,1370.6 L435.6,1371.2 L441.9,1371.7 L448.3,1361.7 L454.7,1355 L461,1354.2 L467.4,1356.7 L473.8,1357.5 L480.1,1357.2 L486.5,1360.9 L492.8,1363.4 L499.2,1364.5 L505.6,1365 L511.9,1363.4 L518.3,1361.7 L524.7,1362.5 L531,1366.7 L537.4,1369.2 L543.8,1369.6 L550.1,1369.6 L556.5,1369.6 L562.8,1370.6 L569.2,1371.7 L575.6,1372.6 L581.9,1373.4 L588.3,1373.9 L594.7,1374.2 L601,1374.6 L607.4,1375.1 L613.8,1374.6 L620.1,1373.9 L626.5,1373.9 L632.9,1375.1 L639.2,1375.9 L645.6,1375.9 L651.9,1373.9 L658.3,1372.2 L664.7,1371.9 L671,1372.6 L677.4,1375.1 L683.8,1375.9 L690.1,1375.9 L696.5,1376.3 L702.9,1376.6 L709.2,1376.9 L715.6,1377.3 L721.9,1377.6 L728.3,1377.9 L734.7,1378.4 L741,1378.9 L747.4,1379.3 L753.8,1379.3 L760.1,1379.6 L766.5,1379.6 L772.9,1379.6 L779.2,1379.4 L785.6,1379.8 L792,1380.1 L798.3,1380.3 L804.7,1380.4 L811,1380.6 L817.4,1380.8 L823.8,1380.9 L830.1,1381.1 L836.5,1381.3 L842.9,1381.4 L849.2,1381.6 L855.6,1381.8 L862,1381.8 L868.3,1381.9 L874.7,1381.9 L881,1382.1 L887.4,1382.1 L893.8,1382.3 L900.1,1382.3 L906.5,1382.4 L912.9,1382.4 L919.2,1382.6 L925.6,1382.6 L932,1382.6 L938.3,1382.8 L944.7,1382.8 L951.1,1382.9 L957.4,1382.9 L963.8,1383.3 L970.1,1383.3 L976.5,1383.5 L982.9,1383.5 L989.2,1383.6 L995.6,1383.6 L1002,1383.6 L1008.3,1383.6 L1014.7,1383.6 L1021.1,1383.6 L1027.4,1383.6 L1033.8,1383.6 L1040.1,1383.6 L1046.5,1383.6 L1052.9,1383.6 L1059.2,1383.6 L1065.6,1383.6 L1072,1383.6 L1078.3,1383.6 L1084.7,1383.6 L1091.1,1383.6 L1097.4,1383.6 L1103.8,1383.6 L1110.2,1383.6 L1116.5,1383.6 L1122.9,1383.6 L1129.2,1383.6 L1135.6,1383.6 L1142,1383.6 L1148.3,1383.6 L1154.7,1383.6 L1161.1,1383.6 L1167.4,1383.6 L1173.8,1383.6 L1180.2,1383.6 L1186.5,1383.6 L1192.9,1383.6 L1199.2,1383.6 L1205.6,1383.6 L1212,1383.6 L1218.3,1383.6 L1224.7,1383.6 L1231.1,1383.6 L1237.4,1383.6 L1243.8,1383.6" stroke="#3c0552"/>
</g>
<g fill="none" stroke-width="3.6" stroke-dasharray="14.55 14.55" stroke-opacity="0.88">
<path d="M728.4,1412.9V790.9" stroke="#3c0552"/>
<path d="M779.3,1412.9V790.9" stroke="#3e4f8a"/>
<path d="M855.6,1412.9V790.9" stroke="#f4d548"/>
<path d="M1033.9,1412.9V790.9" stroke="#6dcb9c"/>
</g>
<g stroke="#333" stroke-width="3.6" fill="none">
<path d="M275.6,929.4H285"/>
<path d="M275.6,1081H285"/>
<path d="M275.6,1232.7H285"/>
<path d="M275.6,1384.3H285"/>
<path d="M518.3,1412.6V1422"/>
<path d="M772.9,1412.6V1422"/>
<path d="M1027.4,1412.6V1422"/>
<path d="M1282,1412.6V1422"/>
<path d="M1352.4,819.3H1361.3"/>
<path d="M1352.4,1026.2H1361.3"/>
<path d="M1352.4,1233H1361.3"/>
</g>
<g fill="none" stroke="#000" stroke-width="3.05">
<path d="M285,790.9V1412.6"/>
<path d="M285,1412.6H1270.7"/>
</g>
<text transform="translate(752.2,877.9) scale(1,0.97)" font-size="38.9" fill="#3c0552" font-weight="bold" stroke="#3c0552" stroke-width="0.6" stroke-linejoin="round">42 days</text>
<text transform="translate(802.2,938.5) scale(1,0.97)" font-size="38.9" fill="#3e4f8a" font-weight="bold" stroke="#3e4f8a" stroke-width="0.6" stroke-linejoin="round">38 days</text>
<text transform="translate(872.2,1017.2) scale(1,0.97)" font-size="38.9" fill="#f4d548" font-weight="bold" stroke="#f4d548" stroke-width="0.6" stroke-linejoin="round">29 days</text>
<text transform="translate(267.9,941) scale(1,1.045)" font-size="29.3" fill="#4d4d4d" text-anchor="end">0.75</text>
<text transform="translate(267.9,1092.7) scale(1,1.045)" font-size="29.3" fill="#4d4d4d" text-anchor="end">0.50</text>
<text transform="translate(267.9,1244.3) scale(1,1.045)" font-size="29.3" fill="#4d4d4d" text-anchor="end">0.25</text>
<text transform="translate(267.9,1396) scale(1,1.045)" font-size="29.3" fill="#4d4d4d" text-anchor="end">0.00</text>
<text transform="translate(518.3,1451.5) scale(1,1.045)" font-size="29.3" fill="#4d4d4d" text-anchor="middle">120</text>
<text transform="translate(772.9,1451.5) scale(1,1.045)" font-size="29.3" fill="#4d4d4d" text-anchor="middle">160</text>
<text transform="translate(1027.4,1451.5) scale(1,1.045)" font-size="29.3" fill="#4d4d4d" text-anchor="middle">200</text>
<text transform="translate(1282,1451.5) scale(1,1.045)" font-size="29.3" fill="#4d4d4d" text-anchor="middle">240</text>
<text transform="translate(1368.5,830.9) scale(1,1.045)" font-size="29.3" fill="#4d4d4d">0.0</text>
<text transform="translate(1368.5,1037.9) scale(1,1.045)" font-size="29.3" fill="#4d4d4d">0.5</text>
<text transform="translate(1368.5,1244.7) scale(1,1.045)" font-size="29.3" fill="#4d4d4d">1.0</text>
<text transform="translate(789.2,1493.8) scale(1,1.06)" font-size="37.2" fill="#000" text-anchor="middle">Day of year</text>
<text transform="translate(1427.4,1101.9) rotate(90) scale(1,1.06)" font-size="37.2" fill="#000" text-anchor="middle">Snow water equivalent (m)</text>
<g transform="translate(182.5,1263.7) rotate(-90) scale(1,1.06)" fill="#000" font-size="36.7"><text x="-1.6" y="0">Streamflow</text><text x="192" y="-0.5" font-size="42.8">(</text><text x="208" y="0">m</text><text x="237.5" y="-18.6" font-size="25.7">3</text><text x="261.8" y="0">s</text><text x="280.5" y="-15.8" font-size="25.7">−</text><text x="295.2" y="-18.6" font-size="25.7">1</text><text x="311.6" y="-0.5" font-size="42.8">)</text></g>
<text transform="translate(140.6,822.9) scale(1,1.045)" font-size="46" fill="#000" font-weight="bold" stroke="#000" stroke-width="0.9" stroke-linejoin="round">b</text>
</g>
<g>
<text transform="translate(263.6,1562.9) scale(1,1.06)" font-size="37.2" fill="#000">Water year</text>
<rect x="465.1" y="1526" width="53.75" height="53.85" fill="#3c0552" fill-opacity="0.75"/>
<path d="M468.8,1553H515.2" stroke="#3c0552" stroke-width="6.0" fill="none"/>
<path d="M491.8,1581.9V1522.8" stroke="#3c0552" stroke-width="3.6" stroke-dasharray="14.35 14.35" stroke-opacity="0.88" fill="none"/>
<text transform="translate(539.1,1563.2) scale(1,1.03)" font-size="30.3" fill="#000">2021</text>
<rect x="637.1" y="1526" width="54.75" height="53.85" fill="#3e4f8a" fill-opacity="0.75"/>
<path d="M640.8,1553H688.1" stroke="#3e4f8a" stroke-width="6.0" fill="none"/>
<path d="M664.3,1581.9V1522.8" stroke="#3e4f8a" stroke-width="3.6" stroke-dasharray="14.35 14.35" stroke-opacity="0.88" fill="none"/>
<text transform="translate(711.1,1563.2) scale(1,1.03)" font-size="30.3" fill="#000">2022</text>
<rect x="806.1" y="1526" width="53.75" height="53.85" fill="#6dcb9c" fill-opacity="0.75"/>
<path d="M809.8,1553H856.1" stroke="#6dcb9c" stroke-width="6.0" fill="none"/>
<path d="M832.8,1581.9V1522.8" stroke="#6dcb9c" stroke-width="3.6" stroke-dasharray="14.35 14.35" stroke-opacity="0.88" fill="none"/>
<text transform="translate(880.1,1563.2) scale(1,1.03)" font-size="30.3" fill="#000">2023</text>
<rect x="970.9" y="1526" width="53.9" height="53.85" fill="#f2d440" fill-opacity="0.75"/>
<path d="M974.6,1553H1021.1" stroke="#f4d548" stroke-width="6.0" fill="none"/>
<path d="M997.6,1581.9V1522.8" stroke="#f4d548" stroke-width="3.6" stroke-dasharray="14.35 14.35" stroke-opacity="0.88" fill="none"/>
<text transform="translate(1045.1,1563.2) scale(1,1.03)" font-size="30.3" fill="#000">2024</text>
</g>
</svg>
</body></html>
